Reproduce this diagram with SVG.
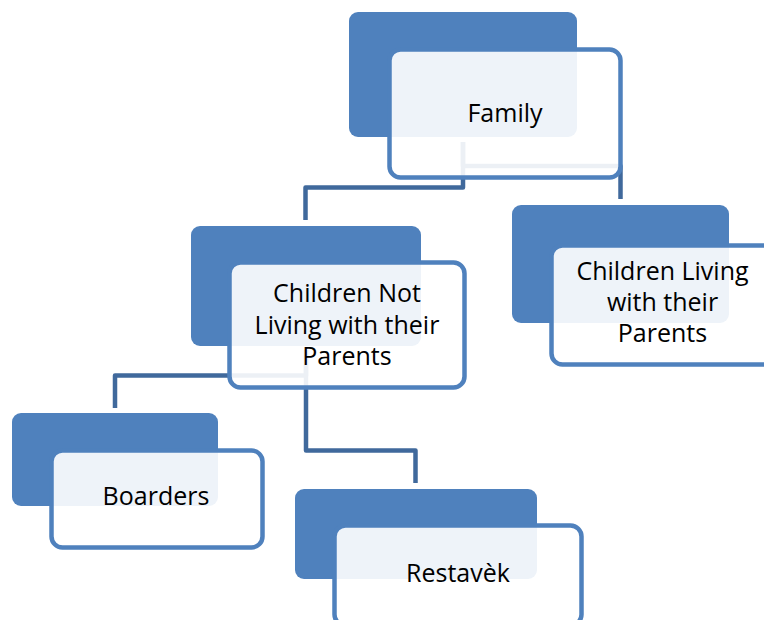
<svg xmlns="http://www.w3.org/2000/svg" width="764" height="620" viewBox="0 0 764 620">
<style>
.back{fill:#4f81bd;}
.front{fill:#ffffff;fill-opacity:0.9;stroke:#4f81bd;stroke-width:4.5;}
.conn{fill:none;stroke:#40699c;stroke-width:4.5;stroke-linejoin:round;}
text{font-family:"Open Sans","Noto Sans",sans-serif;font-size:25px;fill:#000;text-anchor:middle;}
</style>
<rect width="764" height="620" fill="#ffffff"/>
<g id="connectors">
<path class="conn" d="M463,142 V187.5 H305.5 V220"/>
<path class="conn" d="M463,142 V166 H620.5 V199"/>
<path class="conn" d="M306,350 V375.5 H115 V408"/>
<path class="conn" d="M306,350 V450.5 H415.5 V483"/>
</g>
<g id="family">
<rect class="back" x="349" y="12" width="228" height="125" rx="9"/>
<rect class="front" x="389.5" y="49.5" width="231" height="128" rx="11"/>
<text x="505" y="122">Family</text>
</g>
<g id="children-not-living">
<rect class="back" x="191" y="226" width="230" height="120" rx="9"/>
<rect class="front" x="229.5" y="262.5" width="235" height="125" rx="11"/>
<text x="347" y="302">Children Not</text>
<text x="347" y="333.5">Living with their</text>
<text x="347" y="365">Parents</text>
</g>
<g id="children-living">
<rect class="back" x="512" y="205" width="217" height="118" rx="9"/>
<rect class="front" x="551.5" y="245.5" width="222" height="119" rx="11"/>
<text x="662.5" y="280">Children Living</text>
<text x="662.5" y="311">with their</text>
<text x="662.5" y="342">Parents</text>
</g>
<g id="boarders">
<rect class="back" x="12" y="413" width="206" height="93" rx="9"/>
<rect class="front" x="51.5" y="450.5" width="211" height="97" rx="11"/>
<text x="156" y="505">Boarders</text>
</g>
<g id="restavek">
<rect class="back" x="295" y="489" width="242" height="90" rx="9"/>
<rect class="front" x="334.5" y="525.5" width="247" height="100" rx="11"/>
<text x="458" y="582">Restavèk</text>
</g>
</svg>
